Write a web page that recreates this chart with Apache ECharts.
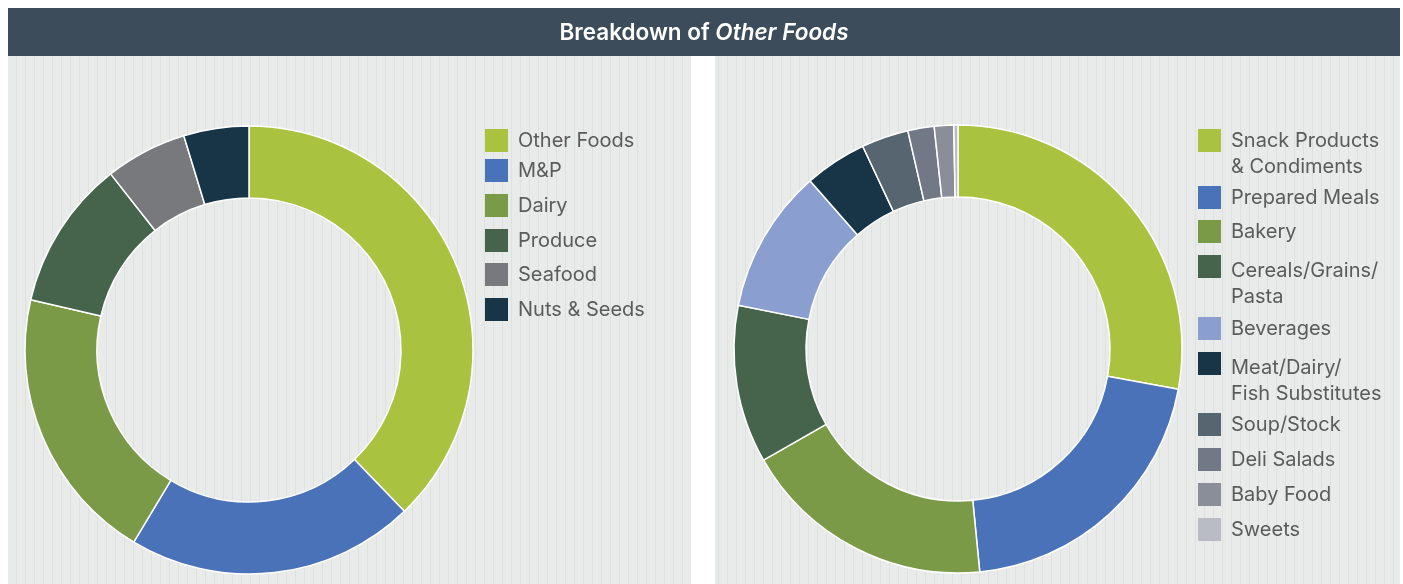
<!DOCTYPE html>
<html>
<head>
<meta charset="utf-8">
<script src="https://cdn.jsdelivr.net/npm/echarts@6/dist/echarts.min.js"></script>
<style>
html,body{margin:0;padding:0;background:#fff}
#main{width:1403px;height:584px}
</style>
</head>
<body>
<div id="main"></div>
<script>
// left donut
var leftNames = ['Other Foods', 'M&P', 'Dairy', 'Produce', 'Seafood', 'Nuts & Seeds'];
var leftValues = [37.8, 20.8, 20.0, 10.8, 5.9, 4.7];
var leftColors = ['#a9c23f', '#4a72b8', '#7a9a47', '#46634b', '#78797d', '#183447'];

// right donut
var rightNames = ['Snack Products & Condiments', 'Prepared Meals', 'Bakery', 'Cereals/Grains/Pasta',
    'Beverages', 'Meat/Dairy/Fish Substitutes', 'Soup/Stock', 'Deli Salads', 'Baby Food', 'Sweets'];
var rightLabels = ['Snack Products\n& Condiments', 'Prepared Meals', 'Bakery', 'Cereals/Grains/\nPasta',
    'Beverages', 'Meat/Dairy/\nFish Substitutes', 'Soup/Stock', 'Deli Salads', 'Baby Food', 'Sweets'];
var rightValues = [27.9, 20.6, 18.3, 11.4, 10.4, 4.5, 3.4, 1.9, 1.4, 0.3];
var rightColors = ['#a9c23f', '#4a72b8', '#7a9a47', '#46634b', '#8a9ecf', '#183447',
    '#56656f', '#727885', '#8a8e99', '#b9bcc5'];

(function(){
    var dom = document.getElementById('main');
    var myChart = echarts.init(dom);

    // striped panel background
    var cv = document.createElement('canvas');
    cv.width = 9; cv.height = 4;
    var ctx = cv.getContext('2d');
    ctx.fillStyle = '#e9eaea';
    ctx.fillRect(0, 0, 9, 4);
    ctx.fillStyle = '#dce3dc';
    ctx.fillRect(7, 0, 1, 4);
    var stripes = {image: cv, repeat: 'repeat'};

    var font = 'Inter, Roboto, sans-serif';
    var txtColor = '#5b5b5b';

    function pieData(names, values, colors) {
        return names.map(function (n, i) {
            return {name: n, value: values[i], itemStyle: {color: colors[i]}};
        });
    }

    var legends = [];
    var L = 26;

    // drop: how far the first text line sits below the icon centre
    function addLegend(name, label, color, left, iconTop, drop) {
        var lines = label.split('\n');
        var multi = lines.length > 1;
        var h0 = L + 2 * drop;
        var text = multi
            ? '{e| }\n' + lines.map(function (s) { return '{t|' + s + '}'; }).join('\n')
            : label;
        legends.push({
            orient: 'vertical', left: left,
            top: multi ? iconTop + 11.5 - (h0 + 2 * L) / 2 : iconTop,
            padding: 0, itemWidth: 23, itemHeight: 23, icon: 'rect', selectedMode: false,
            itemStyle: {borderWidth: 0},
            data: [{name: name, itemStyle: {color: color, borderWidth: 0}}],
            textStyle: {
                color: txtColor, fontSize: 20, fontFamily: font, lineHeight: 23, padding: [0, 0, 0, 5],
                rich: {
                    e: {lineHeight: h0, fontSize: 20, fontFamily: font},
                    t: {lineHeight: L, fontSize: 20, fontFamily: font, color: txtColor}
                }
            },
            formatter: function () { return text; }
        });
    }

    var leftTops = [129, 159, 194, 229, 263, 298];
    leftNames.forEach(function (n, i) { addLegend(n, n, leftColors[i], 485, leftTops[i], 0); });

    var rightTops = [129, 186, 220, 255, 317, 352, 413, 448, 483, 518];
    var rightDrop = [0, 0, 0, 4, 0, 4, 0, 0, 0, 0];
    rightNames.forEach(function (n, i) {
        addLegend(n, rightLabels[i], rightColors[i], 1198, rightTops[i], rightDrop[i]);
    });

    option = {
        animation: false,
        graphic: [
            {type: 'rect', shape: {x: 8, y: 8, width: 1392, height: 48}, style: {fill: '#3d4c5b'}, silent: true},
            {type: 'rect', shape: {x: 8, y: 56, width: 683, height: 528}, style: {fill: stripes}, silent: true},
            {type: 'rect', shape: {x: 715, y: 56, width: 685, height: 528}, style: {fill: stripes}, silent: true},
            {
                type: 'text', x: 704, y: 33, silent: true,
                style: {
                    text: '{a|Breakdown of }{b|Other Foods}',
                    align: 'center', verticalAlign: 'middle',
                    rich: {
                        a: {fill: '#fff', fontSize: 22.5, fontWeight: 600, fontFamily: font},
                        b: {fill: '#fff', fontSize: 22.5, fontWeight: 600, fontStyle: 'italic', fontFamily: font}
                    }
                }
            }
        ],
        legend: legends,
        series: [
            {
                name: 'Breakdown', type: 'pie', center: [249, 350], radius: [152, 224],
                label: {show: false}, labelLine: {show: false}, emphasis: {disabled: true},
                itemStyle: {borderColor: '#fff', borderWidth: 1.5},
                data: pieData(leftNames, leftValues, leftColors)
            },
            {
                name: 'Other Foods', type: 'pie', center: [958, 349], radius: [152, 224],
                label: {show: false}, labelLine: {show: false}, emphasis: {disabled: true},
                itemStyle: {borderColor: '#fff', borderWidth: 1.5},
                data: pieData(rightNames, rightValues, rightColors)
            }
        ]
    };
    if (option && typeof option === "object") {
        myChart.setOption(option, true);
    }
})();
</script>
</body>
</html>
